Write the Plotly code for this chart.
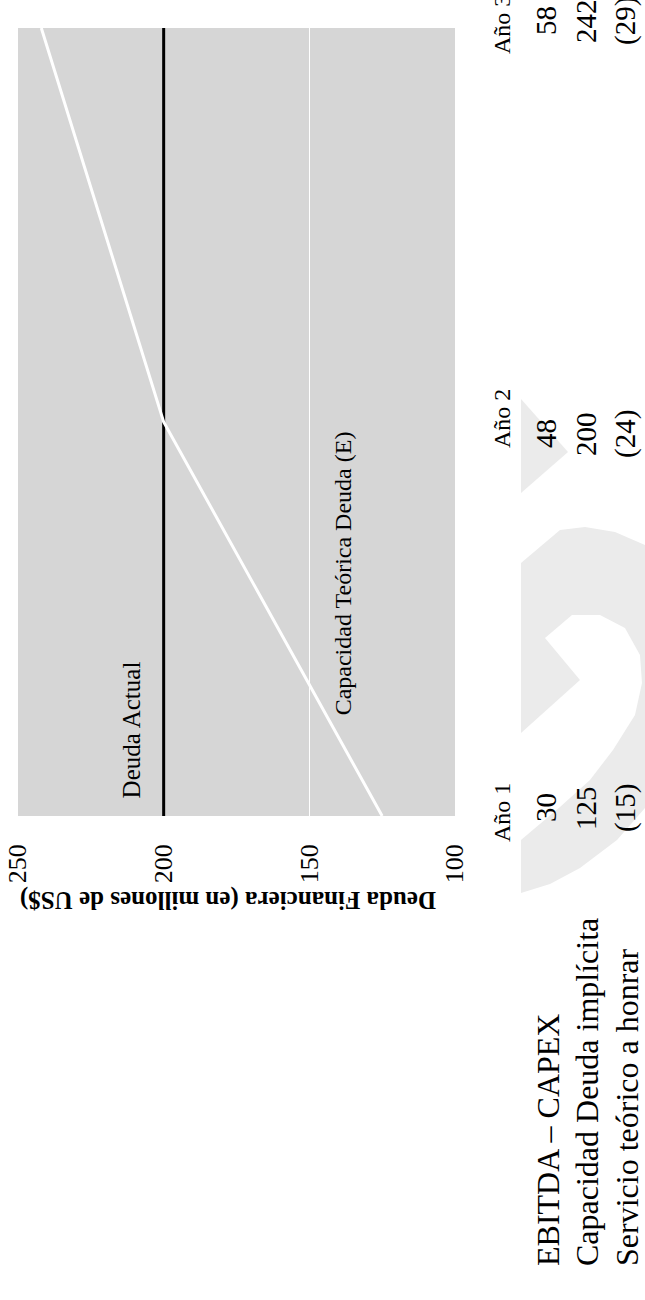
import plotly.graph_objects as go

# Three projected years
years = [1, 2, 3]
year_labels = ["Año 1", "Año 2", "Año 3"]

# Debt figures (millions of US$)
capacidad_teorica = [125, 200, 242]
deuda_actual = [200, 200, 200]

# Table rows shown beside the chart
row_labels = ["EBITDA – CAPEX", "Capacidad Deuda implícita", "Servicio teórico a honrar"]
ebitda_capex = ["30", "48", "58"]
capacidad_txt = [str(v) for v in capacidad_teorica]
servicio = ["(15)", "(24)", "(29)"]

debt_ticks = [100, 150, 200, 250]

FONT = "Liberation Serif"
W, H = 645, 1300
L, R, T, B = 18, 455, 28, 816  # plot area in pixels


def px(x):
    return (x - L) / (R - L)


def py(y):
    return (B - y) / (B - T)


fig = go.Figure()

fig.add_trace(go.Scatter(
    x=deuda_actual, y=years, mode="lines",
    line=dict(color="black", width=3), cliponaxis=False,
    showlegend=False, hoverinfo="skip"))
fig.add_trace(go.Scatter(
    x=capacidad_teorica, y=years, mode="lines",
    line=dict(color="white", width=3),
    showlegend=False, hoverinfo="skip"))

# light watermark logo to the right of the chart
def path(points):
    s = "M {:.4f},{:.4f}".format(px(points[0][0]), py(points[0][1]))
    for x, y in points[1:]:
        s += " L {:.4f},{:.4f}".format(px(x), py(y))
    return s + " Z"

wm = "#ebebeb"
shapes = [
    dict(type="path", xref="paper", yref="paper", layer="below",
         path=path([(521, 399), (568, 452), (521, 493)]),
         fillcolor=wm, line=dict(width=0)),
    dict(type="path", xref="paper", yref="paper", layer="below",
         path=path([(521, 563), (560, 530), (585, 527), (615, 532), (645, 545),
                    (660, 555), (660, 790), (645, 808), (617, 840), (580, 868),
                    (550, 884), (521, 893)]),
         fillcolor=wm, line=dict(width=0)),
    dict(type="path", xref="paper", yref="paper", layer="below",
         path=path([(545, 638), (572, 615), (600, 615), (625, 628), (640, 655),
                    (642, 683), (635, 715), (613, 750), (590, 780), (560, 807),
                    (521, 840), (521, 733), (580, 680)]),
         fillcolor="white", line=dict(width=0)),
]

annotations = []

# year columns of the table
num_x = [546, 586, 625]
num_shift = [8, -12, 7]
for i, yr in enumerate(years):
    for col, vals in enumerate([ebitda_capex, capacidad_txt, servicio]):
        annotations.append(dict(
            x=px(num_x[col]), xref="paper", y=yr, yref="y", yshift=num_shift[i],
            text=vals[i], textangle=-90, showarrow=False,
            xanchor="center", yanchor="middle",
            font=dict(family=FONT, size=29, color="black")))

# row labels
row_x = [548, 587, 627]
for j, lab in enumerate(row_labels):
    annotations.append(dict(
        x=px(row_x[j]), xref="paper", y=py(1268), yref="paper",
        text=lab, textangle=-90, showarrow=False,
        xanchor="center", yanchor="bottom",
        font=dict(family=FONT, size=32, color="black")))

# series labels inside the plot
annotations.append(dict(
    x=200, xref="x", xshift=-32, y=1.04, yref="y",
    text="Deuda Actual", textangle=-90, showarrow=False,
    xanchor="center", yanchor="bottom",
    font=dict(family=FONT, size=25, color="black")))
annotations.append(dict(
    x=138.5, xref="x", y=1.25, yref="y",
    text="Capacidad Teórica Deuda (E)", textangle=-90, showarrow=False,
    xanchor="center", yanchor="bottom",
    font=dict(family=FONT, size=24, color="black")))

# debt axis title
annotations.append(dict(
    x=px(438), xref="paper", y=py(900), yref="paper",
    text="<b>Deuda Financiera (en millones de US$)</b>", textangle=180,
    showarrow=False, xanchor="right", yanchor="middle",
    font=dict(family=FONT, size=25, color="black")))

fig.update_layout(
    width=W, height=H,
    margin=dict(l=L, r=W - R, t=T, b=H - B, pad=0, autoexpand=False),
    paper_bgcolor="white", plot_bgcolor="#d6d6d6",
    shapes=shapes, annotations=annotations,
    showlegend=False,
)

fig.update_xaxes(
    range=[250, 100], tickvals=debt_ticks, ticktext=[str(v) for v in debt_ticks],
    tickangle=-90, ticks="", ticklabelstandoff=22, ticklabeloverflow="allow",
    tickfont=dict(family=FONT, size=26, color="black"), automargin=False,
    showgrid=True, gridcolor="white", gridwidth=1,
    zeroline=False, showline=False)

fig.update_yaxes(
    range=[1, 3], tickvals=years, ticktext=year_labels, side="right",
    tickangle=-90, ticks="", ticklabelstandoff=30, ticklabeloverflow="allow",
    tickfont=dict(family=FONT, size=24, color="black"), automargin=False,
    showgrid=False, zeroline=False, showline=False)

fig.write_html("out.html")
